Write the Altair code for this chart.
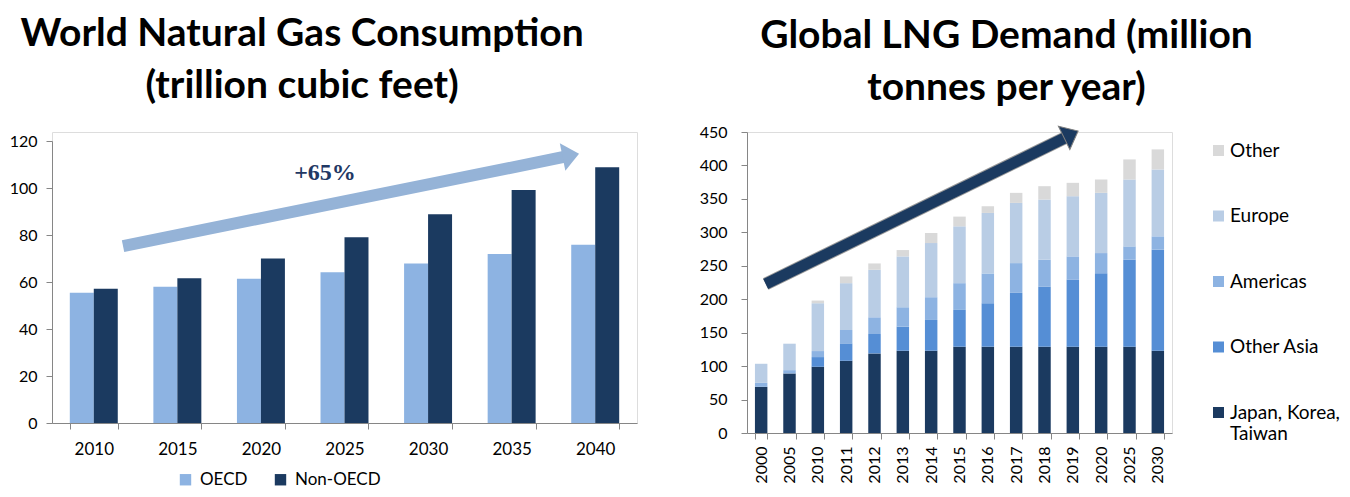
import altair as alt
import pandas as pd

FONT = "Lato"
NAVY = "#1B3A60"
LIGHT = "#8DB3E2"
GRAY = "#868686"

# ---------------- Left chart data ----------------
gas_years = ["2010", "2015", "2020", "2025", "2030", "2035", "2040"]
oecd = [55.4, 58.0, 61.4, 64.2, 67.9, 71.9, 75.9]
non_oecd = [57.1, 61.6, 70.0, 79.0, 88.8, 99.1, 108.8]
gas_series = ["OECD", "Non-OECD"]
gas_ticks = [0, 20, 40, 60, 80, 100, 120]

# ---------------- Right chart data ----------------
lng_years = ["2000", "2005", "2010", "2011", "2012", "2013", "2014", "2015",
             "2016", "2017", "2018", "2019", "2020", "2025", "2030"]
japan_korea_taiwan = [69, 89, 99, 108, 119, 123, 123, 129, 129, 129, 129, 129, 129, 129, 123]
other_asia = [0, 0, 14.5, 26, 29, 36, 46, 55, 65, 80.5, 90, 100, 110, 130, 151]
americas = [6, 5, 9, 20, 25, 29, 34, 40, 44.5, 44.5, 40, 35, 30, 20, 20]
europe = [28.5, 39.5, 71.5, 70, 71, 76, 81, 85, 90.5, 90, 90, 90, 90, 100, 100]
other = [0, 0, 4, 10, 9.5, 9.5, 15, 14.5, 10, 15, 20, 20, 20, 30, 30]
regions = ["Japan, Korea, Taiwan", "Other Asia", "Americas", "Europe", "Other"]
region_colors = ["#1B3A60", "#558ED5", "#8DB3E2", "#B9CDE5", "#D9D9D9"]
lng_ticks = [0, 50, 100, 150, 200, 250, 300, 350, 400, 450]

# ---------------- Annotation arrows (data units) ----------------
# left: x in category-step units [0, 7], y in trillion cubic feet
left_shaft_u = [0.85, 6.125]
left_shaft_v = [75.3, 113.2]
left_head_u = [6.208]
left_head_v = [113.9]
left_label = ["+65%"]
left_label_u = [3.267]
left_label_v = [106.4]
# right: x in category-step units [0, 15], y in million tonnes
right_shaft_u = [0.66, 11.21]
right_shaft_v = [222.8, 441.0]
right_head_u = [11.44]
right_head_v = [446.4]

HEAD_SHAPE = "M-0.6,-1L0.6,0L-0.6,1Z"

# ---------------- Build data frames ----------------
gas_df = pd.DataFrame({
    "year": gas_years * 2,
    "series": [gas_series[0]] * len(gas_years) + [gas_series[1]] * len(gas_years),
    "value": oecd + non_oecd,
})

rows = []
for ri, (name, vals) in enumerate(zip(regions, [japan_korea_taiwan, other_asia, americas, europe, other])):
    for y, v in zip(lng_years, vals):
        rows.append({"year": y, "region": name, "value": v, "idx": ri})
lng_df = pd.DataFrame(rows)

axis_common = dict(domainColor=GRAY, tickColor=GRAY, labelColor="#000000",
                   labelFont=FONT, grid=False, tickSize=6, domainWidth=1, tickWidth=1)

y_axis_l = alt.Axis(values=gas_ticks, labelFontSize=16, labelPadding=9, **axis_common)
y_scale_l = alt.Scale(domain=[0, 120], range=[291, 9], nice=False)
y_axis_r = alt.Axis(values=lng_ticks, labelFontSize=16, labelPadding=14, **axis_common)
y_scale_r = alt.Scale(domain=[0, 450], nice=False)

# ---------------- Left chart ----------------
bars_l = alt.Chart(gas_df).mark_bar().encode(
    x=alt.X("year:N", sort=gas_years, title=None,
            scale=alt.Scale(paddingInner=0.426, paddingOuter=0.213),
            axis=alt.Axis(labelAngle=0, tickBand="extent", labelFontSize=17,
                          labelPadding=12, **axis_common)),
    xOffset=alt.XOffset("series:N", sort=gas_series,
                        scale=alt.Scale(paddingInner=0, paddingOuter=0)),
    y=alt.Y("value:Q", title=None, scale=y_scale_l, axis=y_axis_l),
    color=alt.Color("series:N",
                    scale=alt.Scale(domain=gas_series, range=[LIGHT, NAVY]),
                    legend=alt.Legend(title=None, orient="none", legendX=125, legendY=339,
                                      direction="horizontal", symbolType="square",
                                      symbolSize=130, symbolStrokeWidth=0,
                                      labelFontSize=17, labelFont=FONT, labelColor="#000000",
                                      labelOffset=6, columnPadding=24)),
)

xq_l = alt.X("u:Q", scale=alt.Scale(domain=[0, 7], nice=False, zero=False), axis=None)
yq_l = alt.Y("v:Q", title=None, scale=y_scale_l, axis=y_axis_l)

shaft_l = alt.Chart(pd.DataFrame({"u": left_shaft_u, "v": left_shaft_v})).mark_line(
    color="#95B3D7", strokeWidth=12, strokeCap="butt"
).encode(x=xq_l, y=yq_l)

head_l = alt.Chart(pd.DataFrame({"u": left_head_u, "v": left_head_v})).mark_point(
    shape=HEAD_SHAPE, filled=True, size=784, angle=348.6, color="#95B3D7", opacity=1
).encode(x=xq_l, y=yq_l)

text_l = alt.Chart(pd.DataFrame({"u": left_label_u, "v": left_label_v, "t": left_label})).mark_text(
    font="Liberation Serif", fontWeight="bold", fontSize=24, color="#1F3864"
).encode(x=xq_l, y=yq_l, text="t:N")

left = alt.layer(bars_l, shaft_l, head_l, text_l).resolve_scale(x="independent").properties(
    width=585, height=291,
    title=alt.TitleParams(["World Natural Gas Consumption", "(trillion cubic feet)"],
                          font=FONT, fontSize=39, fontWeight="bold", lineHeight=52,
                          color="#000000", anchor="middle", frame="bounds",
                          offset=26, dx=-21),
)

# ---------------- Right chart ----------------
bars_r = alt.Chart(lng_df).mark_bar().encode(
    x=alt.X("year:N", sort=lng_years, title=None,
            scale=alt.Scale(paddingInner=0.56, paddingOuter=0.28),
            axis=alt.Axis(labelAngle=270, tickBand="extent", labelFontSize=16,
                          labelPadding=7, labelAlign="right", labelBaseline="middle",
                          **axis_common)),
    y=alt.Y("value:Q", title=None, stack="zero", scale=y_scale_r, axis=y_axis_r),
    color=alt.Color("region:N",
                    scale=alt.Scale(domain=regions[::-1], range=region_colors[::-1]),
                    legend=alt.Legend(title=None, orient="none", legendX=462, legendY=9,
                                      direction="vertical", symbolType="square",
                                      symbolSize=121, symbolStrokeWidth=0,
                                      labelFontSize=19, labelFont=FONT, labelColor="#000000",
                                      labelOffset=2, rowPadding=45.5, labelLimit=200,
                                      labelExpr="datum.label == 'Japan, Korea, Taiwan' ? ['Japan, Korea,', 'Taiwan'] : datum.label")),
    order=alt.Order("idx:Q", sort="ascending"),
)

xq_r = alt.X("u:Q", scale=alt.Scale(domain=[0, 15], nice=False, zero=False), axis=None)
yq_r = alt.Y("v:Q", title=None, scale=y_scale_r, axis=y_axis_r)
shaft_df_r = pd.DataFrame({"u": right_shaft_u, "v": right_shaft_v})

shaft_r_outline = alt.Chart(shaft_df_r).mark_line(
    color="#7F7F7F", strokeWidth=13, strokeCap="butt", opacity=0.8
).encode(x=xq_r, y=yq_r)

shaft_r = alt.Chart(shaft_df_r).mark_line(
    color=NAVY, strokeWidth=11, strokeCap="butt"
).encode(x=xq_r, y=yq_r)

head_r = alt.Chart(pd.DataFrame({"u": right_head_u, "v": right_head_v})).mark_point(
    shape=HEAD_SHAPE, filled=True, size=676, angle=333.9, fill=NAVY, stroke="#7F7F7F",
    strokeWidth=1, opacity=1
).encode(x=xq_r, y=yq_r)

right = alt.layer(bars_r, shaft_r_outline, shaft_r, head_r).resolve_scale(x="independent").properties(
    width=425, height=301,
    title=alt.TitleParams(["Global LNG Demand (million", "tonnes per year)"],
                          font=FONT, fontSize=39, fontWeight="bold", lineHeight=52,
                          color="#000000", anchor="middle", offset=4, dx=47),
)

chart = alt.hconcat(left, right, spacing=60).resolve_scale(
    color="independent"
).resolve_legend(color="independent").properties(
    padding={"top": 6, "left": 0, "right": 0, "bottom": 0}
).configure_view(
    strokeWidth=0, stroke="transparent"
).configure(background="#FFFFFF")

chart.save("out.html", embed_options={"renderer": "svg", "actions": False})
